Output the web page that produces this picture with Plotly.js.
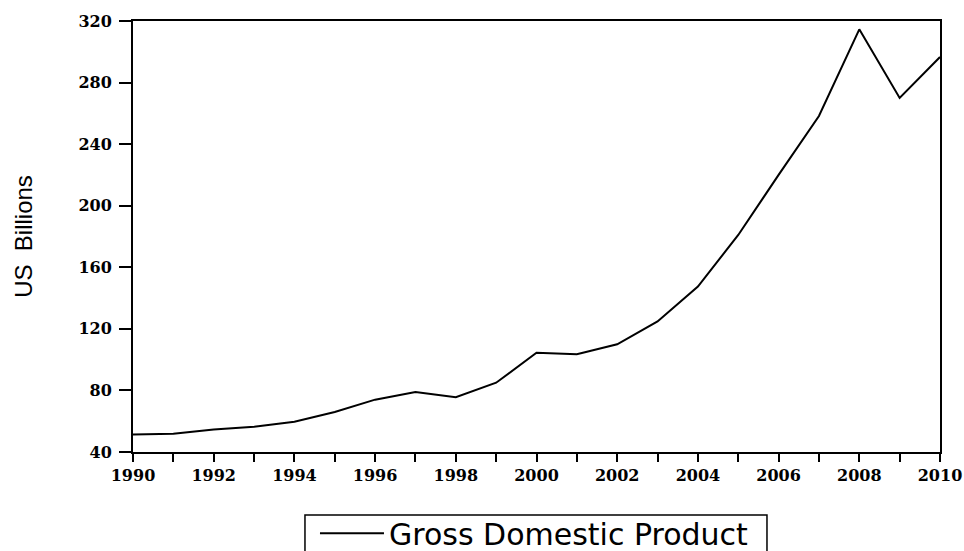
<!DOCTYPE html>
<html>
<head>
<meta charset="utf-8">
<script src="https://cdn.plot.ly/plotly-3.0.1.min.js"></script>
<style>html,body{margin:0;padding:0;background:#fff;}#chart{width:964px;height:551px;}</style>
</head>
<body>
<div id="chart"></div>
<script>
const years = [1990,1991,1992,1993,1994,1995,1996,1997,1998,1999,2000,2001,2002,2003,2004,2005,2006,2007,2008,2009,2010];
const gdp = [51.4,51.8,54.6,56.4,59.6,66.0,74.0,79.0,75.6,85.0,104.5,103.5,110.0,124.8,147.5,181.0,220.0,258.3,314.6,270.0,296.6];
const seriesName = "Gross Domestic Product";
const yTitle = "US  Billions";

const tickFont = {family: "DejaVu Serif", size: 16, color: "#000", weight: "bold"};

const trace = {
  x: years, y: gdp, type: "scatter", mode: "lines", name: seriesName,
  line: {color: "#000", width: 2}, showlegend: true
};

const layout = {
  width: 964, height: 551,
  margin: {l: 133, r: 24, t: 21, b: 99, pad: 0, autoexpand: false},
  paper_bgcolor: "#fff", plot_bgcolor: "#fff",
  showlegend: true,
  legend: {
    x: 0.2255, xanchor: "left", y: -0.1885, yanchor: "middle",
    borderwidth: 0, bgcolor: "rgba(0,0,0,0)",
    font: {family: "DejaVu Sans", size: 30, color: "#000"},
    itemwidth: 64
  },
  shapes: [{
    type: "rect", xref: "paper", yref: "paper",
    x0: 0.2131, x1: 0.7856, y0: -0.27, y1: -0.1462,
    line: {color: "#000", width: 1.5}, fillcolor: "rgba(0,0,0,0)"
  }],
  xaxis: {
    range: [1990, 2010], dtick: 2, tick0: 1990,
    showgrid: false, zeroline: false,
    showline: true, linecolor: "#000", linewidth: 2, mirror: true,
    ticks: "outside", ticklen: 8, tickwidth: 2, tickcolor: "#000",
    tickfont: tickFont,
    minor: {dtick: 1, tick0: 1990, ticks: "outside", ticklen: 8, tickwidth: 2, tickcolor: "#000", showgrid: false}
  },
  yaxis: {
    range: [40, 320], dtick: 40, tick0: 40,
    showgrid: false, zeroline: false,
    showline: true, linecolor: "#000", linewidth: 2, mirror: true,
    ticks: "outside", ticklen: 12, tickwidth: 2, tickcolor: "#000",
    tickfont: tickFont, ticklabelstandoff: 4,
    title: {text: yTitle, font: {family: "Liberation Sans", size: 24, color: "#000"}, standoff: 39}
  }
};

Plotly.newPlot("chart", [trace], layout, {displayModeBar: false, staticPlot: true});
</script>
</body>
</html>
